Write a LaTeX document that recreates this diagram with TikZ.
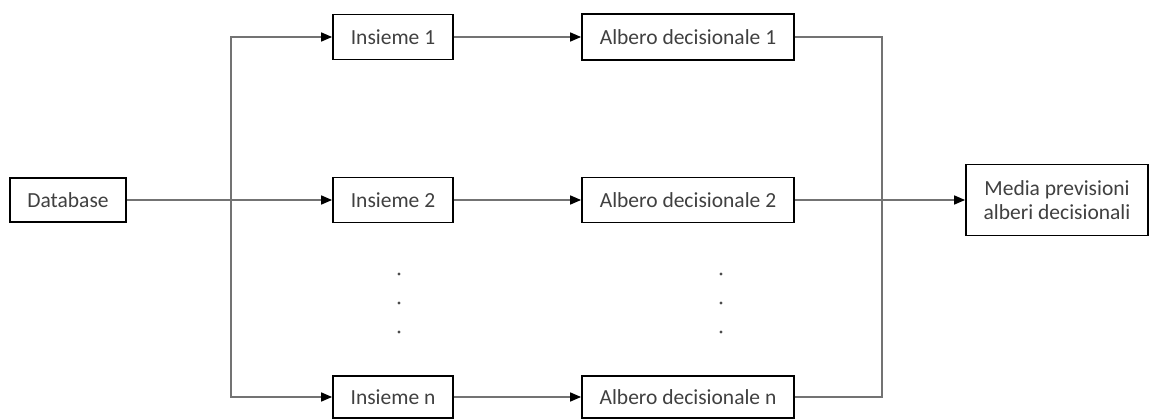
\documentclass[tikz,border=0pt]{standalone}
\usepackage{fontspec}
\setmainfont{Carlito}
\usetikzlibrary{arrows.meta}
\begin{document}
\begin{tikzpicture}[x=1pt,y=-1pt,
  box/.style={draw=black,line width=1.8pt,fill=white,text=black!75,
    font=\fontsize{21.5}{24}\selectfont,inner sep=0pt,align=center},
  link/.style={draw=black!55,line width=1.6pt},
  arr/.style={link,-{Triangle[length=11pt,width=9pt,fill=black,color=black]}},
  dotm/.style={circle,fill=black!70,inner sep=0pt,minimum size=3.2pt}]
\useasboundingbox (0,0) rectangle (1149,419);
% input and output boxes
\node[box,minimum width=116pt,minimum height=44pt] (db) at (68,200) {Database};
\node[box,minimum width=182pt,minimum height=71pt] (media) at (1057,200)
  {Media previsioni\\alberi decisionali};
% subsets
\node[box,minimum width=120pt,minimum height=45pt] (ins1) at (393,37) {Insieme 1};
\node[box,minimum width=120pt,minimum height=45pt] (ins2) at (393,200) {Insieme 2};
\node[box,minimum width=120pt,minimum height=42pt] (insn) at (393,397) {Insieme n};
% decision trees
\node[box,minimum width=212pt,minimum height=46pt] (alb1) at (688,37) {Albero decisionale 1};
\node[box,minimum width=212pt,minimum height=45pt] (alb2) at (688,200) {Albero decisionale 2};
\node[box,minimum width=212pt,minimum height=42pt] (albn) at (688,397) {Albero decisionale n};
% branching points
\coordinate (jl) at (231,200);
\coordinate (jr) at (882,200);
% ellipsis dots
\foreach \y [count=\i] in {274,303,332}{
  \node[dotm] (dl\i) at (399,\y) {};
  \node[dotm] (dr\i) at (721,\y) {};
}
% connectors
\draw[arr] (db) -- (ins2);
\draw[arr] (jl) |- (ins1);
\draw[arr] (jl) |- (insn);
\draw[arr] (ins1) -- (alb1);
\draw[arr] (ins2) -- (alb2);
\draw[arr] (insn) -- (albn);
\draw[link] (alb1.east) -| (jr);
\draw[link] (albn.east) -| (jr);
\draw[arr] (alb2) -- (media);
\end{tikzpicture}
\end{document}
